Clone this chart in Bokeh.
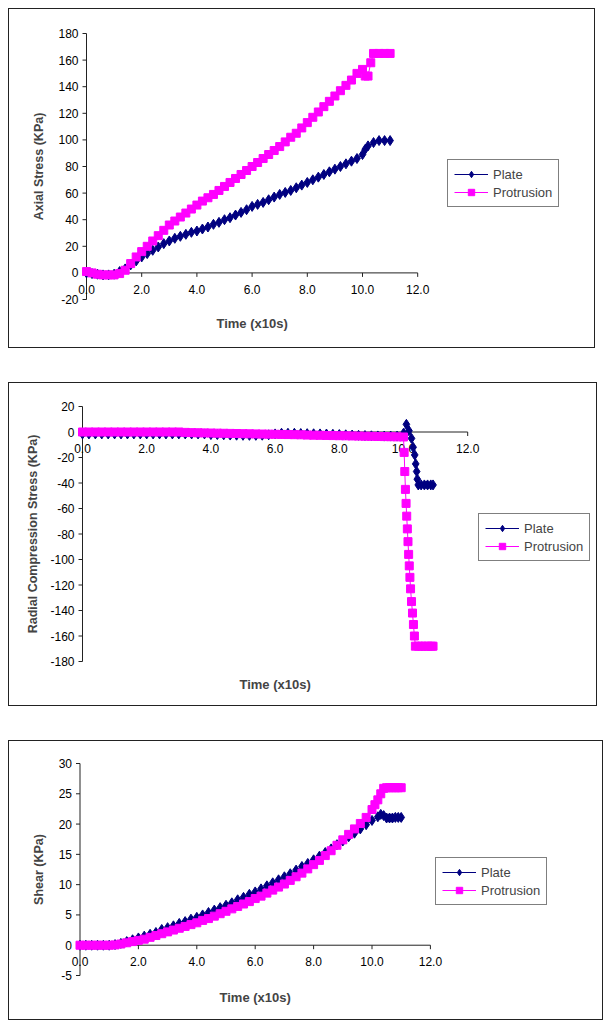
from bokeh.plotting import figure
from bokeh.models import Range1d, Legend, LegendItem, Label
from bokeh.core.properties import value
from bokeh.layouts import column
from bokeh.embed import file_html
from bokeh.resources import INLINE

FONT = "Liberation Sans"
NAVY = "#000080"
MAGENTA = "#FF00FF"
AXIS = "#222222"

x_ticks = [0, 2, 4, 6, 8, 10, 12]
x_tick_labels = ["0.0", "2.0", "4.0", "6.0", "8.0", "10.0", "12.0"]
x_label = "Time (x10s)"
series_names = ["Plate", "Protrusion"]

time_base = [0.0, 0.2, 0.4, 0.6, 0.8, 1.0, 1.2, 1.4, 1.6, 1.8,
             2.0, 2.2, 2.4, 2.6, 2.8, 3.0, 3.2, 3.4, 3.6, 3.8,
             4.0, 4.2, 4.4, 4.6, 4.8, 5.0, 5.2, 5.4, 5.6, 5.8,
             6.0, 6.2, 6.4, 6.6, 6.8, 7.0, 7.2, 7.4, 7.6, 7.8,
             8.0, 8.2, 8.4, 8.6, 8.8, 9.0, 9.2, 9.4, 9.6, 9.8, 10.0]

# ---- Panel 1: Axial stress ----
axial_ticks = [-20, 0, 20, 40, 60, 80, 100, 120, 140, 160, 180]
axial_plate_t = time_base + [10.1, 10.2, 10.4, 10.6, 10.8, 11.0]
axial_plate = [0, -0.5, -1, -1.5, -1.5, -1, 1, 3, 6, 9,
               12, 14.5, 17, 19.5, 22, 24, 26, 27.5, 29, 30.5,
               31.5, 33, 34.5, 36.5, 38, 40, 41.5, 43.5, 45.5, 47.5,
               50, 51.5, 53, 55, 57, 59, 60.5, 62, 64, 66,
               68, 70, 72, 74, 76, 78, 80, 82, 84, 86, 89,
               93, 95.5, 98, 99.5, 99.5, 99.5]
axial_prot_t = time_base + [10.1, 10.2, 10.3, 10.4, 10.6, 10.8, 11.0]
axial_prot = [1, 0, -1, -1.5, -1.5, -1.5, -0.5, 2, 7, 12,
              16, 20, 24, 28, 32, 36, 39, 42, 45, 48,
              51, 54, 56.5, 59, 62, 65, 68, 71, 74, 77,
              80, 83, 86, 89, 92, 95, 98.5, 102, 105, 109,
              113, 117, 121, 125, 129, 133, 137, 141, 145, 150, 153,
              148, 148, 158, 165, 165, 165, 165]

# ---- Panel 2: Radial compression stress ----
radial_ticks = [-180, -160, -140, -120, -100, -80, -60, -40, -20, 0, 20]
radial_plate_t = time_base + [10.09, 10.17, 10.25, 10.3, 10.35, 10.38, 10.41,
                              10.43, 10.46, 10.55, 10.65, 10.75, 10.85, 10.92]
radial_plate = [-1.5, -1.5, -1.5, -1.5, -1.5, -1.5, -1.5, -1.5, -1.5, -1.5,
                -1.5, -1.5, -1.5, -1.5, -1.5, -1.5, -1.5, -1.5, -1.5, -1.5,
                -2, -2, -2.2, -2.4, -2.5, -2.6, -2.6, -2.6, -2.5, -2.2,
                -1.5, -1, -1, -1, -1.2, -1.3, -1.4, -1.5, -1.6, -1.8,
                -2, -2.2, -2.4, -2.6, -2.8, -3, -3.1, -3.2, -3.2, -3.2, -1,
                6, 1, -5, -12, -18, -25, -31,
                -37, -41.5, -41.5, -41.5, -41.5, -41.5, -41.5]
radial_prot_t = time_base + [10.02, 10.04, 10.06, 10.08, 10.10, 10.12, 10.14,
                             10.16, 10.18, 10.20, 10.22, 10.25, 10.28, 10.31,
                             10.34, 10.37, 10.47, 10.57, 10.67, 10.77, 10.87, 10.92]
radial_prot = [0, 0, 0, 0, 0, 0, 0, 0, 0, 0,
               0, 0, 0, 0, 0, 0, -0.3, -0.5, -0.6, -0.7,
               -0.8, -0.9, -1.0, -1.1, -1.2, -1.3, -1.4, -1.5, -1.6, -1.7,
               -1.8, -1.9, -2.0, -2.1, -2.2, -2.4, -2.5, -2.6, -2.7, -2.8,
               -2.9, -3.0, -3.1, -3.2, -3.3, -3.4, -3.5, -3.6, -3.7, -3.8, -3.9,
               -16, -31, -45, -56, -66, -76, -86,
               -96, -105, -114, -123, -133, -142, -151,
               -160, -168, -168, -168, -168, -168, -168, -168]

# ---- Panel 3: Shear ----
shear_ticks = [-5, 0, 5, 10, 15, 20, 25, 30]
shear_plate_t = time_base + [10.2, 10.3, 10.4, 10.5, 10.6, 10.7, 10.8, 10.9, 11.0]
shear_plate = [0, 0, 0, 0, 0, 0, 0.1, 0.3, 0.6, 0.9,
               1.2, 1.5, 1.8, 2.1, 2.6, 2.9, 3.2, 3.6, 3.9, 4.3,
               4.6, 5.0, 5.4, 5.8, 6.2, 6.6, 7.0, 7.5, 7.9, 8.4,
               8.8, 9.3, 9.8, 10.3, 10.8, 11.3, 11.8, 12.4, 13.0, 13.5,
               14.1, 14.7, 15.3, 15.9, 16.6, 17.2, 17.9, 18.5, 19.2, 19.9, 20.6,
               21.2, 21.6, 21.4, 21.0, 21.0, 21.0, 21.1, 21.1, 21.1]
shear_prot_t = time_base + [10.1, 10.2, 10.3, 10.4, 10.5, 10.6, 10.7, 10.8, 10.9, 11.0]
shear_prot = [0, 0, 0, 0, 0, 0, 0.05, 0.2, 0.4, 0.6,
              0.8, 1.0, 1.3, 1.6, 1.9, 2.2, 2.5, 2.8, 3.1, 3.4,
              3.7, 4.1, 4.4, 4.8, 5.2, 5.6, 6.0, 6.4, 6.8, 7.2,
              7.7, 8.1, 8.6, 9.1, 9.6, 10.1, 10.7, 11.3, 11.9, 12.6,
              13.3, 14.0, 14.8, 15.6, 16.5, 17.4, 18.3, 19.2, 20.1, 21.1, 22.4,
              23.2, 24.0, 25.0, 25.9, 26.0, 26.0, 26.0, 26.0, 26.0, 26.0]


def make_panel(W, H, top, bottom, ax, k, yticks, ylabel, ytitle_dx,
               plate_t, plate_v, prot_t, prot_v, leg_x, leg_top, label_gap):
    ymin, ymax = yticks[0], yticks[-1]
    ky = (H - top - bottom) / (ymax - ymin)
    p = figure(width=W, height=H, output_backend="svg", toolbar_location=None,
               x_range=Range1d(-ax / k, (W - ax) / k),
               y_range=Range1d(ymin - bottom / ky, ymax + top / ky),
               x_axis_location=None, y_axis_location=None, min_border=0)
    p.styles = {"border": "1px solid #222"}
    p.outline_line_color = None
    p.grid.visible = False
    p.background_fill_color = "white"
    p.border_fill_color = "white"

    # y axis (drawn at x = 0)
    p.segment(x0=[0], y0=[ymin], x1=[0], y1=[ymax], line_color=AXIS, line_width=1)
    p.segment(x0=[0] * len(yticks), y0=yticks, x1=[-4 / k] * len(yticks), y1=yticks,
              line_color=AXIS, line_width=1)
    p.text(x=[0] * len(yticks), y=yticks, text=[str(v) for v in yticks],
           x_offset=-8, text_align="right", text_baseline="middle",
           text_font=value(FONT), text_font_size="12px", text_color="black")
    # x axis (drawn at y = 0)
    p.segment(x0=[x_ticks[0]], y0=[0], x1=[x_ticks[-1]], y1=[0],
              line_color=AXIS, line_width=1)
    p.segment(x0=x_ticks, y0=[0] * len(x_ticks), x1=x_ticks,
              y1=[-4 / ky] * len(x_ticks), line_color=AXIS, line_width=1)
    p.text(x=x_ticks, y=[0] * len(x_ticks), text=x_tick_labels, y_offset=12,
           text_align="center", text_baseline="top",
           text_font=value(FONT), text_font_size="12px", text_color="black")

    l1 = p.line(plate_t, plate_v, line_color=NAVY, line_width=1)
    s1 = p.scatter(plate_t, plate_v, marker="diamond", size=10,
                   fill_color=NAVY, line_color=NAVY)
    l2 = p.line(prot_t, prot_v, line_color=MAGENTA, line_width=1)
    s2 = p.scatter(prot_t, prot_v, marker="square", size=8,
                   fill_color=MAGENTA, line_color=MAGENTA)

    leg_h = 46
    legend = Legend(items=[LegendItem(label=series_names[0], renderers=[l1, s1]),
                           LegendItem(label=series_names[1], renderers=[l2, s2])],
                    location=(leg_x, H - leg_top - leg_h),
                    border_line_color="black", border_line_width=1,
                    background_fill_alpha=1.0,
                    label_text_font=FONT, label_text_font_size="13px",
                    glyph_width=34, glyph_height=16, label_height=16,
                    label_standoff=5, padding=6, spacing=2, margin=0)
    p.add_layout(legend)

    p.add_layout(Label(x=-ytitle_dx / k, y=(ymin + ymax) / 2, text=ylabel,
                       angle=90, angle_units="deg", text_align="center",
                       text_baseline="middle", text_font=FONT,
                       text_font_style="bold", text_font_size="12.5px"))
    p.add_layout(Label(x=(x_ticks[0] + x_ticks[-1]) / 2, y=ymin - label_gap / ky,
                       text=x_label, text_align="center", text_baseline="middle",
                       text_font=FONT, text_font_style="bold",
                       text_font_size="13px"))
    return p


p1 = make_panel(587, 340, 24, 50, 77, 27.6, axial_ticks, "Axial Stress (KPa)", 48,
                axial_plate_t, axial_plate, axial_prot_t, axial_prot,
                438, 152, 24)
p2 = make_panel(589, 324, 23, 46, 73, 32.1, radial_ticks,
                "Radial Compression Stress (KPa)", 50,
                radial_plate_t, radial_plate, radial_prot_t, radial_prot,
                469, 132, 23)
p3 = make_panel(595, 280, 22, 46, 70.5, 29.2, shear_ticks, "Shear (KPa)", 41.5,
                shear_plate_t, shear_plate, shear_prot_t, shear_prot,
                426, 118, 22)

layout = column(p1, p2, p3, spacing=34)
layout.margin = (8, 0, 0, 8)
open("out.html", "w").write(file_html(layout, INLINE))
